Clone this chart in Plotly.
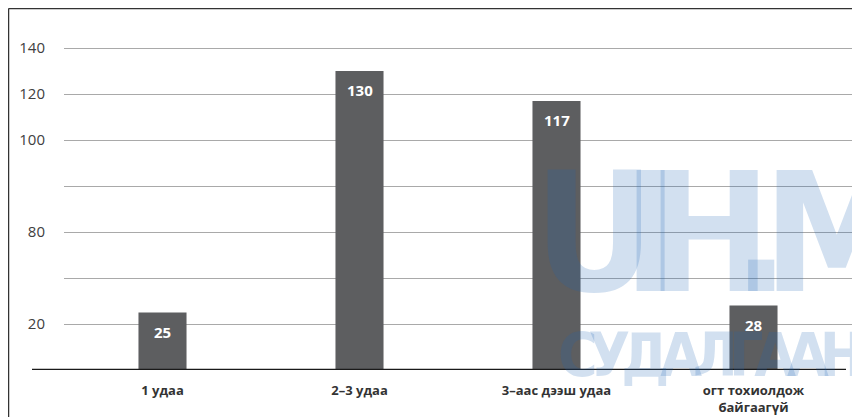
import plotly.graph_objects as go

categories = ["1 удаа", "2–3 удаа", "3–аас дээш удаа", "огт тохиолдож<br>байгаагүй"]
values = [25, 130, 117, 28]
tick_vals = [20, 40, 60, 80, 100, 120, 140]
tick_text = ["20", "", "80", "", "100", "120", "140"]
watermark_top = "UIH.M"
watermark_bottom = "СУДАЛГААНЬ"

FONT = "Open Sans"
WM_FONT = "DejaVu Sans Condensed, DejaVu Sans"
WM_COLOR = "rgba(30,100,180,0.2)"
OFF = 8  # page body margin
W, H = 852, 409
L, R, T, B = 56, 8, 17, 47
pw, ph = W - L - R, H - T - B


def px_x(s):
    return (s - OFF - L) / pw


def px_y(s):
    return (H - B - (s - OFF)) / ph


fig = go.Figure(
    go.Bar(
        x=categories,
        y=values,
        marker=dict(color="#5d5e60", line=dict(width=0)),
        hoverinfo="x+y",
    )
)

for c, v in zip(categories, values):
    fig.add_annotation(x=c, y=v, text=f"<b>{v}</b>", showarrow=False, yanchor="top", yshift=-7,
                       font=dict(family=FONT, size=15, color="white"))

fig.update_layout(
    width=W,
    height=H,
    margin=dict(l=L, r=R, t=T, b=B, pad=0, autoexpand=False),
    paper_bgcolor="white",
    plot_bgcolor="white",
    bargap=0.756,
    showlegend=False,
    font=dict(family=FONT, color="#404040"),
)
fig.update_xaxes(
    automargin=False,
    showgrid=False,
    showline=False,
    zeroline=False,
    ticks="",
    ticklabelstandoff=11,
    tickfont=dict(family=FONT, size=13, color="#333333", weight="bold"),
)
fig.update_yaxes(
    automargin=False,
    range=[0, 150],
    tickvals=tick_vals,
    ticktext=tick_text,
    showgrid=True,
    gridcolor="#a9a9a9",
    gridwidth=1,
    zeroline=False,
    showline=False,
    ticks="",
    ticklabelstandoff=18,
    tickfont=dict(family=FONT, size=15, color="#404040"),
)

# baseline
fig.add_shape(type="line", xref="paper", yref="y", x0=px_x(32), x1=px_x(846), y0=0, y1=0,
              line=dict(color="#1a1a1a", width=2.5), layer="above")
# frame (left & top)
fig.add_shape(type="line", xref="paper", yref="paper", x0=px_x(8.5), x1=px_x(8.5), y0=px_y(8.5), y1=px_y(420),
              line=dict(color="#333333", width=1.5), layer="above")
fig.add_shape(type="line", xref="paper", yref="paper", x0=px_x(8.5), x1=px_x(862), y0=px_y(8.5), y1=px_y(8.5),
              line=dict(color="#333333", width=1.5), layer="above")

# watermark, letter by letter (screen-pixel centres)
wm_centres = [594, 650, 709, 761, 837]
for ch, cx in zip(watermark_top, wm_centres):
    fig.add_annotation(text=f'<span style="font-stretch:condensed">{ch}</span>',
                       xref="paper", yref="paper", x=px_x(cx), y=px_y(234),
                       xanchor="center", yanchor="middle", showarrow=False,
                       font=dict(family=WM_FONT, size=165, color=WM_COLOR, weight="bold"))
fig.add_annotation(text=f'<span style="letter-spacing:-9px">{watermark_bottom}</span>',
                   xref="paper", yref="paper", x=px_x(556), y=px_y(355),
                   xanchor="left", yanchor="middle", showarrow=False,
                   font=dict(family=WM_FONT, size=60, color=WM_COLOR, weight="bold"))

fig.write_html("out.html")
